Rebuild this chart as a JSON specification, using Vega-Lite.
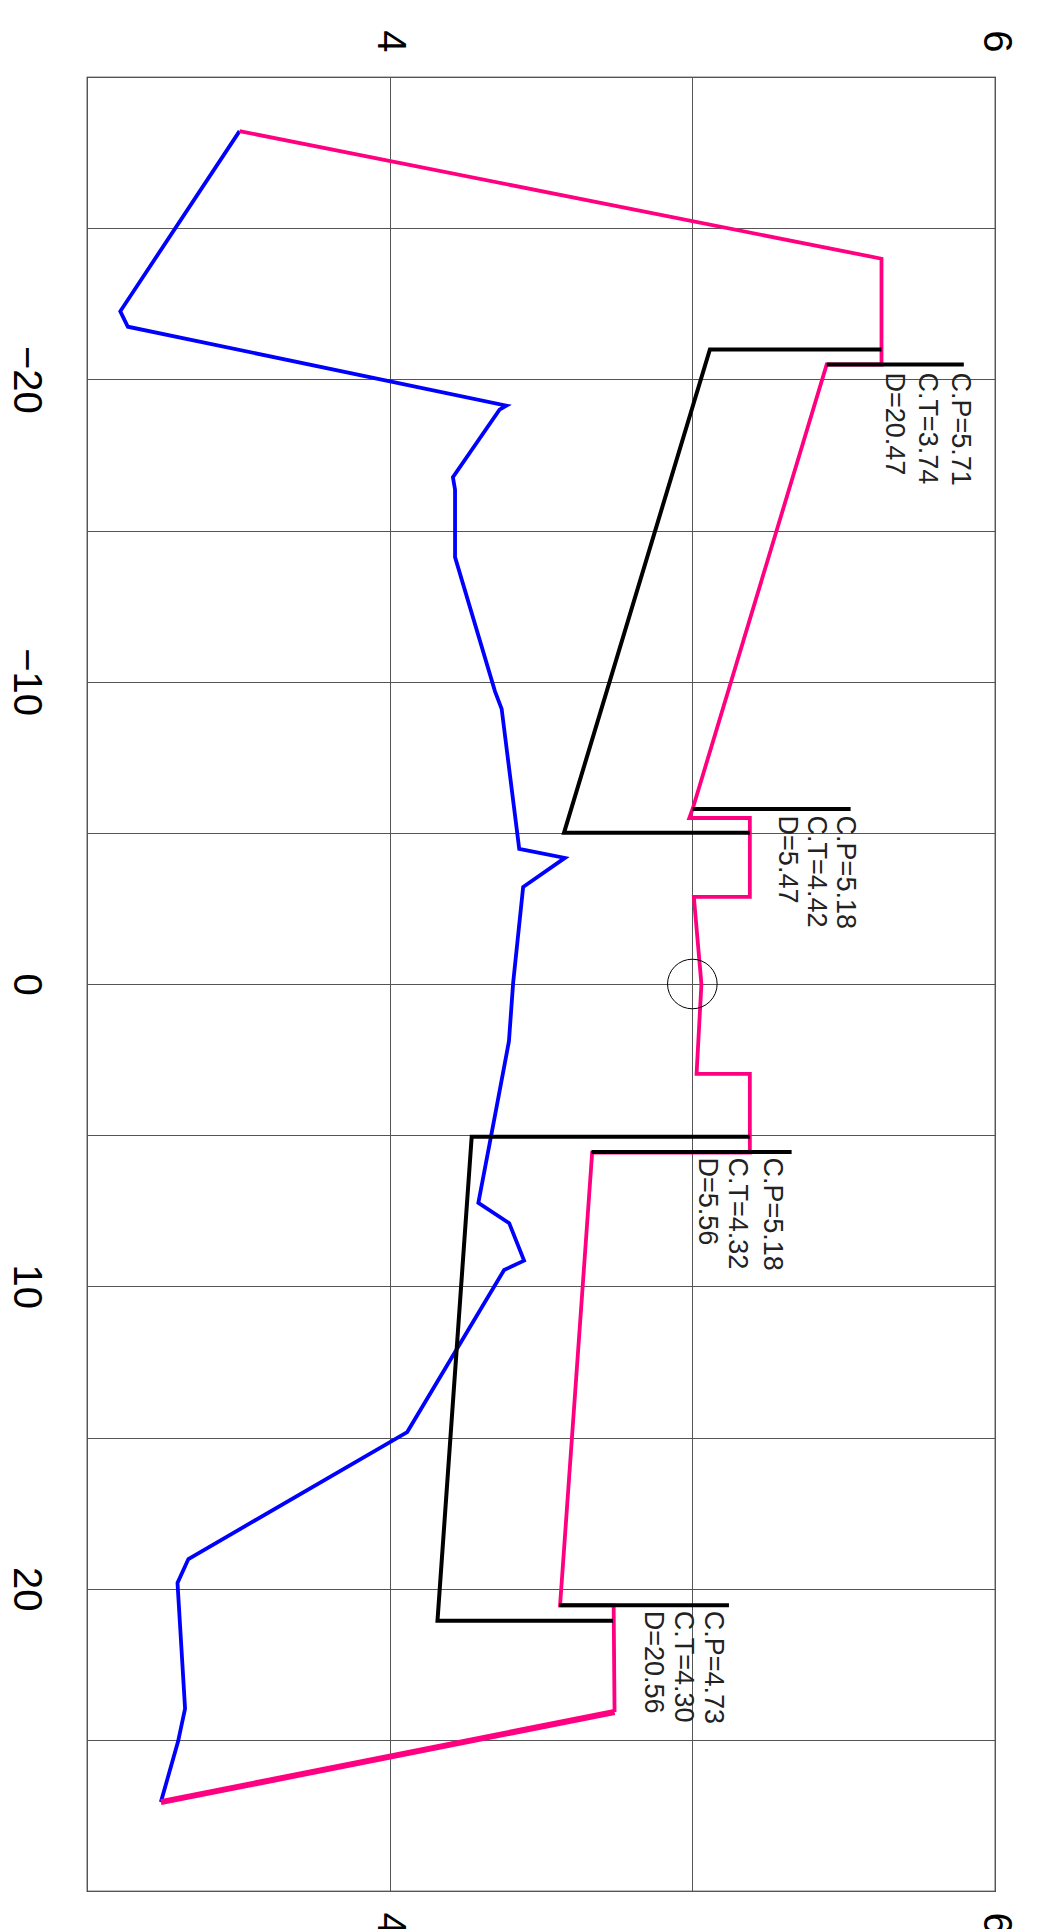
{
  "$schema": "https://vega.github.io/schema/vega-lite/v6.json",
  "width": 908,
  "height": 1814,
  "autosize": {"type": "none"},
  "padding": {"left": 87, "top": 77, "right": 46, "bottom": 38},
  "background": "white",
  "config": {
    "view": {"stroke": "#000", "strokeWidth": 1.2},
    "axis": {"domain": false, "ticks": false, "labelFont": "Liberation Sans", "labelFontSize": 40, "labelColor": "#000", "labelFlush": false, "labelOverlap": false, "labelBound": false, "gridColor": "#555", "gridWidth": 1, "gridOpacity": 1, "title": null}
  },
  "datasets": {
    "lines": [
      {"s": "blue", "g": "blue", "i": 1, "e": 3.504, "o": -28.21},
      {"s": "blue", "g": "blue", "i": 2, "e": 3.110, "o": -22.25},
      {"s": "blue", "g": "blue", "i": 3, "e": 3.135, "o": -21.74},
      {"s": "blue", "g": "blue", "i": 4, "e": 4.386, "o": -19.13},
      {"s": "blue", "g": "blue", "i": 5, "e": 4.363, "o": -19.0},
      {"s": "blue", "g": "blue", "i": 6, "e": 4.209, "o": -16.76},
      {"s": "blue", "g": "blue", "i": 7, "e": 4.216, "o": -16.35},
      {"s": "blue", "g": "blue", "i": 8, "e": 4.216, "o": -14.12},
      {"s": "blue", "g": "blue", "i": 9, "e": 4.348, "o": -9.68},
      {"s": "blue", "g": "blue", "i": 10, "e": 4.370, "o": -9.10},
      {"s": "blue", "g": "blue", "i": 11, "e": 4.428, "o": -4.47},
      {"s": "blue", "g": "blue", "i": 12, "e": 4.579, "o": -4.17},
      {"s": "blue", "g": "blue", "i": 13, "e": 4.441, "o": -3.21},
      {"s": "blue", "g": "blue", "i": 14, "e": 4.408, "o": -0.04},
      {"s": "blue", "g": "blue", "i": 15, "e": 4.394, "o": 1.90},
      {"s": "blue", "g": "blue", "i": 16, "e": 4.351, "o": 4.19},
      {"s": "blue", "g": "blue", "i": 17, "e": 4.293, "o": 7.24},
      {"s": "blue", "g": "blue", "i": 18, "e": 4.395, "o": 7.91},
      {"s": "blue", "g": "blue", "i": 19, "e": 4.444, "o": 9.15},
      {"s": "blue", "g": "blue", "i": 20, "e": 4.378, "o": 9.46},
      {"s": "blue", "g": "blue", "i": 21, "e": 4.058, "o": 14.82},
      {"s": "blue", "g": "blue", "i": 22, "e": 3.335, "o": 19.02},
      {"s": "blue", "g": "blue", "i": 23, "e": 3.299, "o": 19.81},
      {"s": "blue", "g": "blue", "i": 24, "e": 3.324, "o": 23.97},
      {"s": "blue", "g": "blue", "i": 25, "e": 3.301, "o": 25.05},
      {"s": "blue", "g": "blue", "i": 26, "e": 3.244, "o": 27.06},
      {"s": "pink", "g": "pink", "i": 1, "e": 3.504, "o": -28.21},
      {"s": "pink", "g": "pink", "i": 2, "e": 5.625, "o": -23.99},
      {"s": "pink", "g": "pink", "i": 3, "e": 5.625, "o": -20.49},
      {"s": "pink", "g": "pink", "i": 4, "e": 5.444, "o": -20.49},
      {"s": "pink", "g": "pink", "i": 5, "e": 5.001, "o": -5.79},
      {"s": "pink", "g": "pink", "i": 6, "e": 4.990, "o": -5.49},
      {"s": "pink", "g": "pink", "i": 7, "e": 5.190, "o": -5.49},
      {"s": "pink", "g": "pink", "i": 8, "e": 5.190, "o": -2.88},
      {"s": "pink", "g": "pink", "i": 9, "e": 5.005, "o": -2.88},
      {"s": "pink", "g": "pink", "i": 10, "e": 5.030, "o": 0.0},
      {"s": "pink", "g": "pink", "i": 11, "e": 5.014, "o": 2.97},
      {"s": "pink", "g": "pink", "i": 12, "e": 5.190, "o": 2.97},
      {"s": "pink", "g": "pink", "i": 13, "e": 5.190, "o": 5.58},
      {"s": "pink", "g": "pink", "i": 14, "e": 4.669, "o": 5.58},
      {"s": "pink", "g": "pink", "i": 15, "e": 4.563, "o": 20.55},
      {"s": "pink", "g": "pink", "i": 16, "e": 4.740, "o": 20.55},
      {"s": "pink", "g": "pink", "i": 17, "e": 4.743, "o": 24.08},
      {"s": "pinkthick", "g": "pinkthick", "i": 1, "e": 4.743, "o": 24.08},
      {"s": "pinkthick", "g": "pinkthick", "i": 2, "e": 3.244, "o": 27.06},
      {"s": "black", "g": "a", "i": 1, "e": 5.625, "o": -20.99},
      {"s": "black", "g": "a", "i": 2, "e": 5.058, "o": -20.99},
      {"s": "black", "g": "a", "i": 3, "e": 4.576, "o": -5.0},
      {"s": "black", "g": "a", "i": 4, "e": 5.190, "o": -5.0},
      {"s": "black", "g": "b", "i": 1, "e": 5.190, "o": 5.05},
      {"s": "black", "g": "b", "i": 2, "e": 4.271, "o": 5.05},
      {"s": "black", "g": "b", "i": 3, "e": 4.158, "o": 21.06},
      {"s": "black", "g": "b", "i": 4, "e": 4.738, "o": 21.06},
      {"s": "black", "g": "L1", "i": 1, "e": 5.444, "o": -20.49},
      {"s": "black", "g": "L1", "i": 2, "e": 5.897, "o": -20.49},
      {"s": "black", "g": "L2", "i": 1, "e": 5.001, "o": -5.79},
      {"s": "black", "g": "L2", "i": 2, "e": 5.523, "o": -5.79},
      {"s": "black", "g": "L3", "i": 1, "e": 4.667, "o": 5.56},
      {"s": "black", "g": "L3", "i": 2, "e": 5.328, "o": 5.56},
      {"s": "black", "g": "L4", "i": 1, "e": 4.560, "o": 20.55},
      {"s": "black", "g": "L4", "i": 2, "e": 5.121, "o": 20.55}
    ],
    "labels": [
      {"t": "C.P=5.71", "e": 5.885, "o": -20.23},
      {"t": "C.T=3.74", "e": 5.775, "o": -20.23},
      {"t": "D=20.47", "e": 5.666, "o": -20.23},
      {"t": "C.P=5.18", "e": 5.504, "o": -5.57},
      {"t": "C.T=4.42", "e": 5.409, "o": -5.57},
      {"t": "D=5.47", "e": 5.312, "o": -5.57},
      {"t": "C.P=5.18", "e": 5.262, "o": 5.74},
      {"t": "C.T=4.32", "e": 5.149, "o": 5.74},
      {"t": "D=5.56", "e": 5.048, "o": 5.74},
      {"t": "C.P=4.73", "e": 5.069, "o": 20.73},
      {"t": "C.T=4.30", "e": 4.970, "o": 20.73},
      {"t": "D=20.56", "e": 4.871, "o": 20.73}
    ],
    "center": [{"e": 5.0, "o": 0.0}]
  },
  "layer": [
    {
      "data": {"name": "lines"},
      "transform": [{"filter": "datum.s == 'blue'"}],
      "mark": {"type": "line", "color": "#0000ff", "strokeWidth": 3.8},
      "encoding": {
        "x": {"field": "e", "type": "quantitative", "scale": {"domain": [3, 6], "nice": false, "zero": false},
          "axis": {"orient": "bottom", "values": [3, 4, 5, 6], "format": "d", "grid": true, "labelAngle": 90, "labelAlign": "left", "labelBaseline": "middle", "labelPadding": 21, "labelExpr": "datum.value == 4 || datum.value == 6 ? datum.label : ''"}},
        "y": {"field": "o", "type": "quantitative", "scale": {"domain": [-30, 30], "reverse": true, "nice": false, "zero": false},
          "axis": {"orient": "left", "values": [-30, -25, -20, -15, -10, -5, 0, 5, 10, 15, 20, 25, 30], "format": "d", "grid": true, "labelAngle": 90, "labelAlign": "center", "labelBaseline": "top", "labelPadding": 42, "labelExpr": "abs(datum.value) % 10 == 0 && abs(datum.value) < 30 ? datum.label : ''"}},
        "order": {"field": "i", "type": "quantitative"}
      }
    },
    {
      "data": {"name": "lines"},
      "transform": [{"filter": "datum.s == 'pink'"}],
      "mark": {"type": "line", "color": "#ff0080", "strokeWidth": 3.8},
      "encoding": {
        "x": {"field": "e", "type": "quantitative",
          "axis": {"orient": "top", "values": [4, 6], "format": "d", "grid": false, "labelAngle": 90, "labelAlign": "right", "labelBaseline": "middle", "labelPadding": 25}},
        "y": {"field": "o", "type": "quantitative", "axis": null},
        "order": {"field": "i", "type": "quantitative"}
      }
    },
    {
      "data": {"name": "lines"},
      "transform": [{"filter": "datum.s == 'pinkthick'"}],
      "mark": {"type": "line", "color": "#ff0080", "strokeWidth": 6},
      "encoding": {
        "x": {"field": "e", "type": "quantitative", "axis": null},
        "y": {"field": "o", "type": "quantitative", "axis": null},
        "order": {"field": "i", "type": "quantitative"}
      }
    },
    {
      "data": {"name": "lines"},
      "transform": [{"filter": "datum.s == 'black'"}],
      "mark": {"type": "line", "color": "#000000", "strokeWidth": 4},
      "encoding": {
        "x": {"field": "e", "type": "quantitative", "axis": null},
        "y": {"field": "o", "type": "quantitative", "axis": null},
        "detail": {"field": "g"},
        "order": {"field": "i", "type": "quantitative"}
      }
    },
    {
      "data": {"name": "center"},
      "mark": {"type": "point", "shape": "circle", "filled": false, "size": 2460, "stroke": "#000", "strokeWidth": 1, "opacity": 1},
      "encoding": {
        "x": {"field": "e", "type": "quantitative", "axis": null},
        "y": {"field": "o", "type": "quantitative", "axis": null}
      }
    },
    {
      "data": {"name": "labels"},
      "mark": {"type": "text", "angle": 90, "align": "left", "baseline": "middle", "font": "Liberation Sans", "fontSize": 27, "color": "#222"},
      "encoding": {
        "x": {"field": "e", "type": "quantitative", "axis": null},
        "y": {"field": "o", "type": "quantitative", "axis": null},
        "text": {"field": "t"}
      }
    }
  ],
  "resolve": {"axis": {"x": "independent", "y": "independent"}}
}
